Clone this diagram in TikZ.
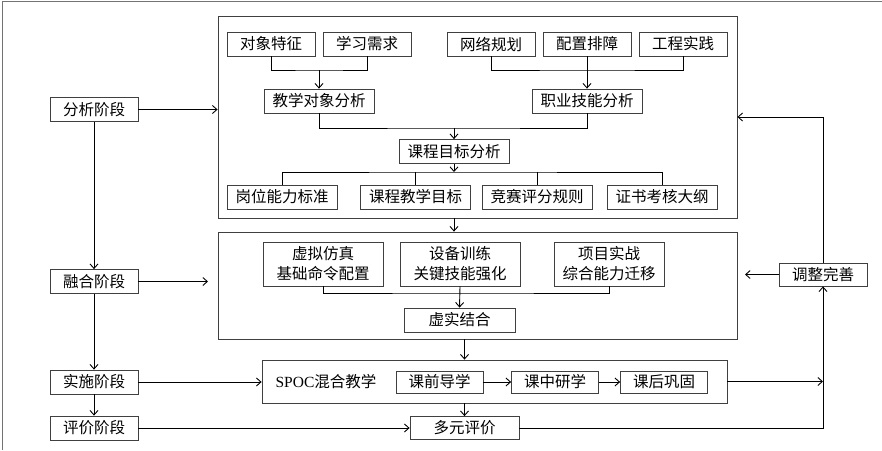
\documentclass[tikz,border=0pt]{standalone}
\usepackage{fontspec}
\usetikzlibrary{arrows.meta}
\setmainfont{Noto Sans CJK SC}
\newfontfamily\latfont{Liberation Serif}
\begin{document}
\begin{tikzpicture}
            [x=1pt,y=-1pt,
             box/.style={draw=black!75,line width=0.8pt,minimum width=88pt,minimum height=24pt,inner sep=0pt,font=\fontsize{15.5}{20}\selectfont},
             wide/.style={box,minimum width=110pt},
             frame/.style={draw=black!75,line width=0.8pt,inner sep=0pt},
             link/.style={line width=0.9pt},
             arr/.style={link,-{Straight Barb[length=4.5pt,width=8pt]}}]
            \useasboundingbox (0,0) rectangle (882,450);
            \draw[black!55,line width=1pt] (2.7,450) -- (2.7,1.3) -- (882,1.3);

            % stages
            \node[box] (S1) at (94,109.5) {分析阶段};
            \node[box] (S2) at (94,281.5) {融合阶段};
            \node[box] (S3) at (94,382) {实施阶段};
            \node[box] (S4) at (94,428) {评价阶段};

            % frames
            \node[frame,minimum width=519pt,minimum height=202pt] (F1) at (477.5,117) {};
            \node[frame,minimum width=519pt,minimum height=107pt] (F2) at (477.5,285.5) {};
            \node[frame,minimum width=465pt,minimum height=43pt] (F3) at (494.5,381.5) {};

            % analysis
            \node[box] (A1) at (271,44) {对象特征};
            \node[box] (A2) at (367,44) {学习需求};
            \node[box] (A3) at (491,44) {网络规划};
            \node[box] (A4) at (587,44) {配置排障};
            \node[box] (A5) at (683,44) {工程实践};
            \node[wide] (B1) at (319,101) {教学对象分析};
            \node[wide] (B2) at (587,101) {职业技能分析};
            \node[wide] (C) at (454,151.5) {课程目标分析};
            \node[wide] (D1) at (282,197) {岗位能力标准};
            \node[wide] (D2) at (415.5,197) {课程教学目标};
            \node[wide] (D3) at (537,197) {竞赛评分规则};
            \node[wide] (D4) at (662,197) {证书考核大纲};

            \coordinate (jA) at (319,70);
            \coordinate (jB) at (587,70);
            \coordinate (jC) at (454,128);
            \coordinate (jD) at (454,172);
            \draw[link] (A1.south) |- (jA) -| (A2.south);
            \draw[arr] (jA) -- (B1.north);
            \draw[link] (A3.south) |- (jB) -| (A5.south);
            \draw[arr] (A4.south) -- (B2.north);
            \draw[link] (B1.south) |- (jC) -| (B2.south);
            \draw[arr] (jC) -- (C.north);
            \draw[arr] (C.south) -- (jD);
            \draw[link] (D1.north) |- (jD) -| (D4.north);
            \draw[link] (D2.north) -- (D2.north |- jD);
            \draw[link] (D3.north) -- (D3.north |- jD);
            \draw[arr] (jD |- F1.south) -- (jD |- F2.north);

            % fusion
            \node[box,minimum width=120pt,minimum height=44pt,align=center] (E1) at (323,264) {虚拟仿真\\基础命令配置};
            \node[box,minimum width=120pt,minimum height=44pt,align=center] (E2) at (460,264) {设备训练\\关键技能强化};
            \node[box,minimum width=110pt,minimum height=44pt,align=center] (E3) at (609,264) {项目实战\\综合能力迁移};
            \node[wide,minimum width=111pt] (G) at (459.5,320) {虚实结合};
            \coordinate (jE) at (460,293);
            \draw[link] (E1.south) |- (jE) -| (E3.south);
            \draw[arr] (E2.south) -- (G.north);

            % implementation
            \node[font=\fontsize{15.5}{20}\selectfont] (T) at (326,382) {{\latfont SPOC}混合教学};
            \node[box,minimum width=87pt,minimum height=22pt] (H1) at (439.5,382) {课前导学};
            \node[box,minimum width=87pt,minimum height=22pt] (H2) at (555,382) {课中研学};
            \node[box,minimum width=87pt,minimum height=22pt] (H3) at (664,382) {课后巩固};
            \draw[arr] (H1) -- (H2);
            \draw[arr] (H2) -- (H3);

            % evaluation
            \node[box,minimum width=109pt,minimum height=23pt] (M) at (464.5,428) {多元评价};
            \node[box,minimum height=23pt] (R) at (823,274.5) {调整完善};
            \coordinate (eS2) at (208,281.5);
            \coordinate (eR) at (745,274.5);

            \draw[arr] (M |- F2.south) -- (M |- F3.north);
            \draw[arr] (M |- F3.south) -- (M.north);
            \draw[arr] (S1) -- (S2);
            \draw[arr] (S2) -- (S3);
            \draw[arr] (S3) -- (S4);
            \draw[arr] (S1.east) -- (F1.west |- S1.east);
            \draw[arr] (S2.east) -- (eS2);
            \draw[arr] (S3.east) -- (F3.west |- S3.east);
            \draw[arr] (S4.east) -- (M.west);
            \draw[arr] (M.east) -| (R.south);
            \draw[arr] (R.north) |- (F1.east);
            \draw[arr] (R.west) -- (eR);
            \draw[arr] (F3.east) -- (F3.east -| R);
          \end{tikzpicture}
\end{document}
